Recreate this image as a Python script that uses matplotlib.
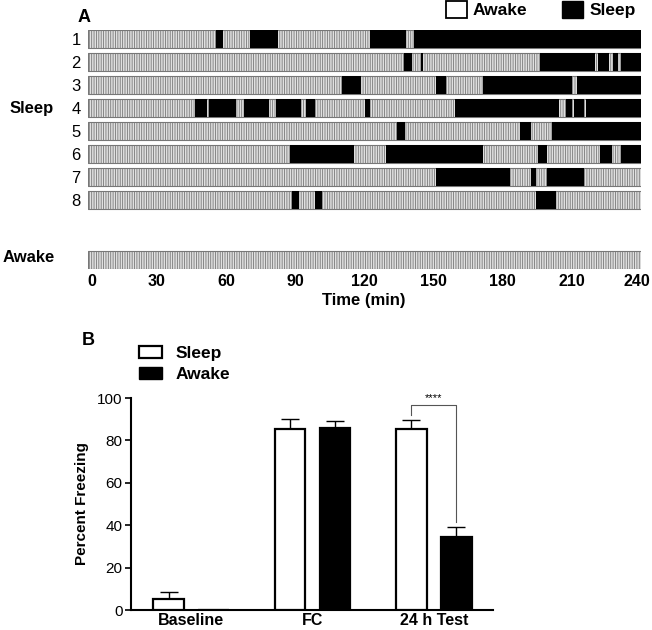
import matplotlib
matplotlib.use("Agg")
from matplotlib import pyplot as plt
from matplotlib.patches import Patch
from matplotlib.transforms import ScaledTranslation
import numpy as np

plt.rcParams['font.family'] = ['Liberation Sans', 'DejaVu Sans']
plt.rcParams['hatch.linewidth'] = 0.6

# panel A: sleep bouts (minutes) per sleep animal
sleep_bouts = [
    [(55.6, 58.7), (70.6, 82.6), (122.4, 138.3), (141.5, 240)],
    [(137.3, 140.5), (144.5, 145.5), (196.2, 220.2), (221.2, 226.2), (228, 230.2), (231.2, 240)],
    [(110.5, 118.5), (151.3, 155.4), (171.3, 210.2), (212.2, 240)],
    [(46.7, 51.6), (52.6, 64.6), (67.7, 78.6), (81.6, 92.4), (94.6, 98.5), (120.5, 122.4),
     (159.3, 204.4), (207.3, 210.2), (211.1, 215.3), (216.1, 240)],
    [(134.4, 137.6), (187.4, 192.3), (201.4, 240)],
    [(87.7, 115.5), (129.3, 171.6), (195.2, 199.3), (222.2, 227.3), (231.2, 240)],
    [(151.3, 183.4), (192.3, 194.3), (199.2, 215.3)],
    [(88.7, 91.6), (98.5, 101.6), (194.3, 203.3)],
]
row_labels = ['1', '2', '3', '4', '5', '6', '7', '8']
time_ticks = [0, 30, 60, 90, 120, 150, 180, 210, 240]
session_len = 240

# panel B
groups = ['Baseline', 'FC', '24 h Test']
sleep_mean = [5.3, 85.3, 85.3]
sleep_err = [3.3, 4.8, 4.1]
awake_mean = [0, 85.8, 34.2]
awake_err = [0, 3.5, 5.0]

W, H = 652, 630
fig = plt.figure(figsize=(6.52, 6.3), dpi=100)

bar_h = 0.77
awake_y = 10.6
top_lim = 1 - bar_h / 2
bot_lim = awake_y + bar_h / 2
axA = fig.add_axes([87.5 / W, 1 - 268.5 / H, 553.5 / W, 238.5 / H])
rows = np.arange(1, len(sleep_bouts) + 1)
for y, bouts in zip(list(rows) + [awake_y], sleep_bouts + [[]]):
    axA.broken_barh([(0, session_len)], (y - bar_h / 2, bar_h), facecolors='#e0e0e0',
                    edgecolor='#777777', hatch='|||||||', linewidth=0.8)
    if bouts:
        axA.broken_barh([(s, e - s) for s, e in bouts], (y - bar_h / 2, bar_h),
                        facecolors='black', edgecolor='none')
axA.set_xlim(0, session_len)
axA.set_ylim(bot_lim, top_lim)
axA.set_yticks(rows)
axA.set_yticklabels(row_labels, fontsize=12)
axA.set_xticks(time_ticks)
axA.set_xticklabels([str(t) for t in time_ticks], fontsize=11.5, fontweight='bold')
axA.tick_params(length=0)
axA.tick_params(axis='x', pad=4)
axA.tick_params(axis='y', pad=5)
xl = axA.get_xticklabels()
xl[0].set_horizontalalignment('left')
xl[-1].set_transform(xl[-1].get_transform() + ScaledTranslation(-0.04, 0, fig.dpi_scale_trans))
for s in axA.spines.values():
    s.set_visible(False)
axA.set_xlabel('Time (min)', fontsize=12, fontweight='bold', labelpad=3)

fig.text(10 / W, 1 - 113 / H, 'Sleep', fontsize=12, fontweight='bold', va='baseline')
fig.text(3 / W, 1 - 262 / H, 'Awake', fontsize=12, fontweight='bold', va='baseline')
fig.text(78 / W, 1 - 22 / H, 'A', fontsize=13, fontweight='bold', va='baseline')
fig.text(82 / W, 1 - 345 / H, 'B', fontsize=13, fontweight='bold', va='baseline')

fig.legend(handles=[Patch(facecolor='white', edgecolor='black', linewidth=1.3, label='Awake'),
                    Patch(facecolor='black', edgecolor='black', label='Sleep')],
           loc='upper left', bbox_to_anchor=(446 / W, 1 - 1 / H), ncol=2, frameon=False,
           prop={'weight': 'bold', 'size': 12.5}, handlelength=1.2, handleheight=1.15,
           handletextpad=0.35, columnspacing=2.0, borderaxespad=0, borderpad=0)

# panel B
axB = fig.add_axes([131 / W, 1 - 610 / H, 362 / W, 212 / H])
x = np.arange(len(groups))
bw = 0.253
off = 0.185
axB.bar(x - off, sleep_mean, bw, color='white', edgecolor='black', linewidth=1.6,
        label='Sleep', zorder=3)
axB.bar(x + off, awake_mean, bw, color='black', edgecolor='black', linewidth=1.6,
        label='Awake', zorder=3)
axB.errorbar(x - off, sleep_mean, yerr=[np.zeros(len(x)), sleep_err], fmt='none',
             ecolor='black', elinewidth=1.0, capsize=6.5, capthick=1.0, zorder=2)
axB.errorbar((x + off)[1:], awake_mean[1:], yerr=[np.zeros(len(x) - 1), awake_err[1:]],
             fmt='none', ecolor='black', elinewidth=1.0, capsize=6.5, capthick=1.0, zorder=2)
# significance bracket
x1, x2 = x[2] - off, x[2] + off
top = 96.7
axB.plot([x1, x1, x2, x2], [sleep_mean[2] + sleep_err[2] + 2.7, top, top,
                            awake_mean[2] + awake_err[2] + 2.5],
         color='#555555', linewidth=0.8)
axB.text((x1 + x2) / 2, top + 0.8, '****', ha='center', va='bottom', fontsize=8)

axB.set_xlim(-0.494, 2.486)
axB.set_ylim(0, 100)
axB.set_yticks([0, 20, 40, 60, 80, 100])
axB.tick_params(axis='y', labelsize=11, width=1.2, length=4, pad=2)
axB.set_xticks(x)
axB.set_xticklabels(groups, fontsize=11.5, fontweight='bold')
axB.tick_params(axis='x', length=0, pad=2)
axB.spines['top'].set_visible(False)
axB.spines['right'].set_visible(False)
axB.spines['left'].set_linewidth(1.5)
axB.spines['bottom'].set_linewidth(1.5)
axB.set_ylabel('Percent Freezing', fontsize=11, fontweight='bold', labelpad=6)

fig.legend(handles=[Patch(facecolor='white', edgecolor='black', linewidth=1.6, label='Sleep'),
                    Patch(facecolor='black', edgecolor='black', label='Awake')],
           loc='upper left', bbox_to_anchor=(139 / W, 1 - 346 / H), frameon=False,
           prop={'weight': 'bold', 'size': 12.5}, handlelength=1.35, handleheight=0.7,
           handletextpad=0.75, labelspacing=0.35, borderaxespad=0, borderpad=0)

fig.savefig('out.png', dpi=100)
